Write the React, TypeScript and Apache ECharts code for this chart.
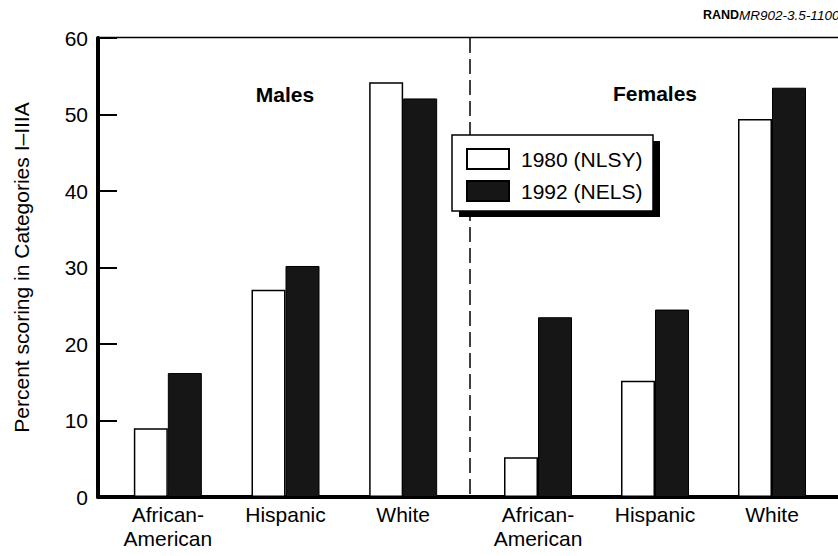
import React, { useEffect, useRef } from "react";
import * as echarts from "echarts";

const maleCategories = ["African-\nAmerican", "Hispanic", "White"];
const femaleCategories = ["African-\nAmerican", "Hispanic", "White"];
const series1980Name = "1980 (NLSY)";
const series1992Name = "1992 (NELS)";
const males1980 = [9.0, 27.1, 54.2];
const males1992 = [16.2, 30.2, 52.1];
const females1980 = [5.2, 15.2, 49.4];
const females1992 = [23.5, 24.5, 53.5];
const groupLabels = ["Males", "Females"];
const yTicks = { min: 0, max: 60, interval: 10 };
const yAxisName = "Percent scoring in Categories I–IIIA";

const FONT = "'Liberation Sans', Arial, Helvetica, sans-serif";

export default function App() {
  const ref = useRef<HTMLDivElement>(null);
  useEffect(() => {
    document.body.style.margin = "0";
    if (!ref.current) return;
    const chart = echarts.init(ref.current, null, { renderer: "svg" });
    const top = 38;
    const bottom = 59;
    const whiteStyle = { color: "#ffffff", borderColor: "#000", borderWidth: 1.5 };
    const blackStyle = { color: "#161616", borderColor: "#000", borderWidth: 1 };
    const catAxis = (idx: number, data: string[]) => ({
      type: "category",
      gridIndex: idx,
      data,
      axisLine: { show: false },
      axisTick: { show: false },
      axisLabel: {
        fontFamily: FONT,
        fontSize: 21,
        color: "#000",
        lineHeight: 24,
        margin: 5,
        interval: 0,
      },
    });
    const hiddenY = (idx: number) => ({
      type: "value",
      gridIndex: idx,
      min: yTicks.min,
      max: yTicks.max,
      interval: yTicks.interval,
      show: false,
    });
    chart.setOption({
      animation: false,
      backgroundColor: "#fff",
      textStyle: { fontFamily: FONT },
      grid: [
        { left: 98, right: -4, top, bottom },
        { left: 109, width: 353, top, bottom },
        { left: 479.5, width: 351, top, bottom },
      ],
      xAxis: [
        {
          type: "value",
          gridIndex: 0,
          min: 0,
          max: 1,
          axisLine: { show: true, onZero: false, lineStyle: { color: "#000", width: 4 } },
          axisTick: { show: false },
          axisLabel: { show: false },
          splitLine: { show: false },
        },
        catAxis(1, maleCategories),
        catAxis(2, femaleCategories),
      ],
      yAxis: [
        {
          type: "value",
          gridIndex: 0,
          min: yTicks.min,
          max: yTicks.max,
          interval: yTicks.interval,
          name: yAxisName,
          nameLocation: "middle",
          nameGap: 66,
          nameTextStyle: { fontFamily: FONT, fontSize: 21, color: "#000" },
          axisLine: { show: true, lineStyle: { color: "#000", width: 4 } },
          axisTick: { show: true, inside: true, length: 19, lineStyle: { color: "#000", width: 2 } },
          axisLabel: { fontFamily: FONT, fontSize: 21, color: "#000", margin: 10 },
          splitLine: { show: false },
        },
        hiddenY(1),
        hiddenY(2),
      ],
      legend: {
        orient: "vertical",
        left: 466,
        top: 148,
        padding: 0,
        itemWidth: 42,
        itemHeight: 20,
        itemGap: 10,
        icon: "rect",
        z: 10,
        data: [series1980Name, series1992Name],
        textStyle: { fontFamily: FONT, fontSize: 21, color: "#000", lineHeight: 20, padding: [0, 0, 0, 7] },
      },
      graphic: [
        {
          type: "line",
          z: 1,
          shape: { x1: 98, y1: 37.5, x2: 838, y2: 37.5 },
          style: { stroke: "#000", lineWidth: 1.5 },
        },
        {
          type: "line",
          z: 1,
          shape: { x1: 470, y1: 38, x2: 470, y2: 497 },
          style: { stroke: "#000", lineWidth: 1.5, lineDash: [15, 6] },
        },
        {
          type: "rect",
          z: 5,
          shape: { x: 459, y: 141, width: 201, height: 76 },
          style: { fill: "#000" },
        },
        {
          type: "rect",
          z: 6,
          shape: { x: 452, y: 135, width: 201, height: 76 },
          style: { fill: "#fff", stroke: "#000", lineWidth: 1.5 },
        },
        {
          type: "text",
          z: 6,
          x: 285,
          y: 94,
          style: {
            text: groupLabels[0],
            fontFamily: FONT,
            fontSize: 21,
            fontWeight: "bold",
            fill: "#000",
            align: "center",
            verticalAlign: "middle",
          },
        },
        {
          type: "text",
          z: 6,
          x: 655,
          y: 93,
          style: {
            text: groupLabels[1],
            fontFamily: FONT,
            fontSize: 21,
            fontWeight: "bold",
            fill: "#000",
            align: "center",
            verticalAlign: "middle",
          },
        },
        {
          type: "text",
          z: 6,
          x: 703,
          y: 15,
          style: {
            text: "{b|RAND}{i|MR902-3.5-1100}",
            fontFamily: FONT,
            fontSize: 13,
            fill: "#000",
            verticalAlign: "middle",
            rich: {
              b: { fontFamily: FONT, fontSize: 12.5, fontWeight: "bold", fill: "#000" },
              i: { fontFamily: FONT, fontSize: 13.5, fontStyle: "italic", fill: "#000" },
            },
          },
        },
      ],
      series: [
        {
          name: series1980Name,
          type: "bar",
          xAxisIndex: 1,
          yAxisIndex: 1,
          data: males1980,
          barWidth: 34,
          barGap: "0%",
          itemStyle: whiteStyle,
        },
        {
          name: series1992Name,
          type: "bar",
          xAxisIndex: 1,
          yAxisIndex: 1,
          data: males1992,
          barWidth: 34,
          barGap: "0%",
          itemStyle: blackStyle,
        },
        {
          name: series1980Name,
          type: "bar",
          xAxisIndex: 2,
          yAxisIndex: 2,
          data: females1980,
          barWidth: 34,
          barGap: "0%",
          itemStyle: whiteStyle,
        },
        {
          name: series1992Name,
          type: "bar",
          xAxisIndex: 2,
          yAxisIndex: 2,
          data: females1992,
          barWidth: 34,
          barGap: "0%",
          itemStyle: blackStyle,
        },
      ],
    });
    return () => chart.dispose();
  }, []);
  return <div ref={ref} style={{ width: 838, height: 556 }} />;
}
